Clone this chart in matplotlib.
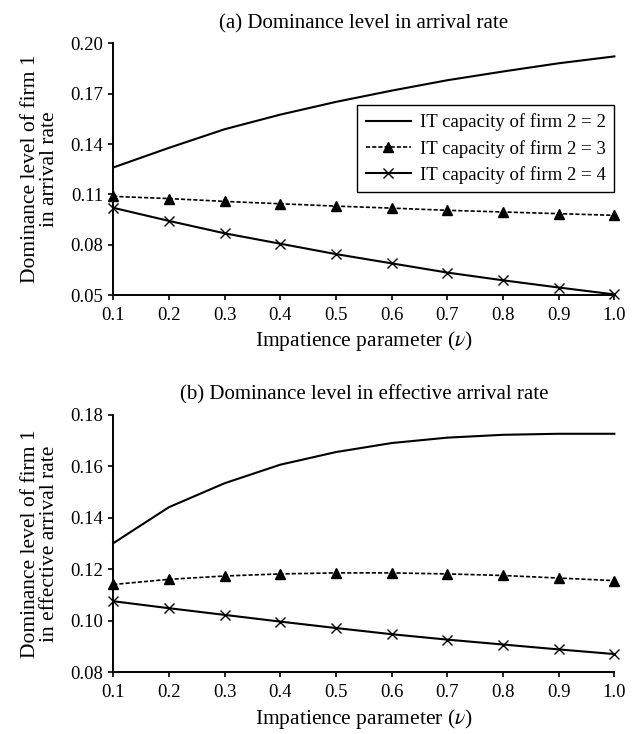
import numpy as np
import matplotlib
matplotlib.use("Agg")
import matplotlib.pyplot as plt

plt.rcParams.update({
    "font.family": ["Liberation Serif", "DejaVu Serif"],
    "mathtext.fontset": "stix",
    "font.size": 13,
    "axes.linewidth": 1.4,
})

# impatience parameter
NU = [0.1, 0.2, 0.3, 0.4, 0.5, 0.6, 0.7, 0.8, 0.9, 1.0]

# (a) dominance level in arrival rate
ARR_CAP2 = [0.126, 0.1377, 0.1488, 0.1575, 0.1651, 0.1718, 0.1780, 0.1832, 0.1881, 0.1922]
ARR_CAP3 = [0.1088, 0.1075, 0.1058, 0.1044, 0.1030, 0.1018, 0.1005, 0.0995, 0.0985, 0.0975]
ARR_CAP4 = [0.1020, 0.0942, 0.0868, 0.0806, 0.0744, 0.0689, 0.0634, 0.0588, 0.0545, 0.0504]

# (b) dominance level in effective arrival rate
EFF_CAP2 = [0.1301, 0.1441, 0.1534, 0.1606, 0.1655, 0.1690, 0.1711, 0.1722, 0.1726, 0.1726]
EFF_CAP3 = [0.1141, 0.1161, 0.1174, 0.1182, 0.1186, 0.1186, 0.1182, 0.1176, 0.1166, 0.1156]
EFF_CAP4 = [0.1076, 0.1049, 0.1023, 0.0997, 0.0972, 0.0948, 0.0927, 0.0908, 0.0889, 0.0871]

LABELS = ["IT capacity of firm 2 = 2", "IT capacity of firm 2 = 3",
          "IT capacity of firm 2 = 4"]


def draw_panel(ax, cap2, cap3, cap4, title, ylabel, yticks, legend=False):
    x = np.array(NU)
    ax.plot(x, cap2, color="black", lw=1.5, label=LABELS[0])
    ax.plot(x, cap3, color="black", lw=1.2, linestyle=(0, (2.5, 1.2)),
            marker="^", markersize=7, label=LABELS[1])
    ax.plot(x, cap4, color="black", lw=1.5, marker="x", markersize=7.5,
            markeredgewidth=1.0, label=LABELS[2])
    ax.set_xlim(0.1, 1.0)
    ax.set_ylim(yticks[0], yticks[-1])
    ax.set_xticks(x)
    ax.set_xticklabels([f"{v:.1f}" for v in x])
    ax.set_yticks(yticks)
    ax.set_yticklabels([f"{v:.2f}" for v in yticks])
    ax.spines["top"].set_visible(False)
    ax.spines["right"].set_visible(False)
    ax.tick_params(direction="out", length=3.5, width=1.2, labelsize=13.5)
    ax.tick_params(axis="x", pad=5)
    ax.set_title(title, fontsize=15, pad=11)
    ax.set_xlabel(r"Impatience parameter ($\nu$)", fontsize=15.5, labelpad=4)
    ax.set_ylabel(ylabel, fontsize=15.5, labelpad=8, linespacing=1.05)
    for p in ax.lines:
        p.set_clip_on(False)
    if legend:
        leg = ax.legend(loc="upper right", bbox_to_anchor=(1.0, 0.755),
                        numpoints=1, handlelength=2.4, fontsize=13.5,
                        fancybox=False, edgecolor="black", framealpha=1,
                        borderpad=0.45, labelspacing=0.45, handletextpad=0.5,
                        borderaxespad=0.0)
        leg.get_frame().set_linewidth(1.0)


fig = plt.figure(figsize=(6.36, 7.34), dpi=100)
ax1 = fig.add_axes([0.178, 0.598, 0.788, 0.343])
ax2 = fig.add_axes([0.178, 0.084, 0.788, 0.351])

draw_panel(ax1, ARR_CAP2, ARR_CAP3, ARR_CAP4,
           "(a) Dominance level in arrival rate",
           "Dominance level of firm 1\nin arrival rate",
           [0.05, 0.08, 0.11, 0.14, 0.17, 0.20], legend=True)
draw_panel(ax2, EFF_CAP2, EFF_CAP3, EFF_CAP4,
           "(b) Dominance level in effective arrival rate",
           "Dominance level of firm 1\nin effective arrival rate",
           [0.08, 0.10, 0.12, 0.14, 0.16, 0.18])

fig.savefig("out.png", dpi=100)
